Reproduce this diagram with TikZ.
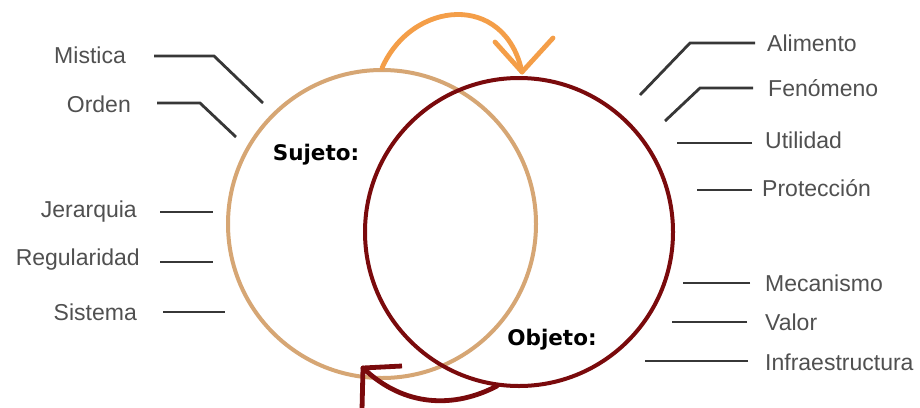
\documentclass[tikz,border=0pt]{standalone}
\usepackage{fontspec}
\setmainfont{Liberation Sans}
\newfontfamily\boldfam{DejaVu Sans}
\definecolor{tanc}{RGB}{214,166,116}
\definecolor{darkr}{RGB}{122,10,12}
\definecolor{orangec}{RGB}{244,158,72}
\definecolor{labg}{RGB}{80,80,80}
\definecolor{lineg}{RGB}{55,55,55}
\begin{document}
\begin{tikzpicture}[x=1pt,y=-1pt,
  lab/.style={inner sep=0pt,text=labg,font=\fontsize{23}{26}\selectfont},
  leftlab/.style={lab,anchor=east},
  rightlab/.style={lab,anchor=west},
  bold/.style={inner sep=0pt,text=black,font=\boldfam\bfseries\fontsize{21.5}{24}\selectfont},
  conn/.style={draw=lineg,line width=2.8pt},
  ring/.style={circle,draw,line width=4pt,minimum size=308pt,inner sep=0pt},
  arr/.style={line width=4.8pt,line cap=round,line join=round}]
\useasboundingbox (0,0) rectangle (920,407);
\fill[white] (0,0) rectangle (920,407);
% circles
\node[ring,draw=tanc] (suj) at (382,224) {};
\node[ring,draw=darkr] (obj) at (519,232) {};
\node[bold] (sujt) at (316,155) {Sujeto:};
\node[bold] (objt) at (552,340) {Objeto:};
% left labels
\node[leftlab] (mis) at (126,55) {Mistica};
\node[leftlab] (ord) at (131,104) {Orden};
\node[leftlab] (jer) at (137,212) {Jerarquia};
\node[leftlab] (reg) at (140,260) {Regularidad};
\node[leftlab] (sis) at (137,312) {Sistema};
\coordinate (cmis) at (263,103);
\coordinate (cord) at (236,137);
\coordinate (cjer) at (213,212);
\coordinate (creg) at (213,262);
\coordinate (csis) at (225,312);
\draw[conn] ([xshift=28pt]mis.east |- 0,56) -- (214,56) -- (cmis);
\draw[conn] ([xshift=26pt]ord.east |- 0,103) -- (200,103) -- (cord);
\draw[conn] ([xshift=23pt]jer.east |- cjer) -- (cjer);
\draw[conn] ([xshift=20pt]reg.east |- creg) -- (creg);
\draw[conn] ([xshift=26pt]sis.east |- csis) -- (csis);
% right labels
\node[rightlab] (ali) at (767,43) {Alimento};
\node[rightlab] (fen) at (768,88) {Fenómeno};
\node[rightlab] (uti) at (765,140) {Utilidad};
\node[rightlab] (pro) at (762,188) {Protección};
\node[rightlab] (mec) at (765,283) {Mecanismo};
\node[rightlab] (val) at (765,322) {Valor};
\node[rightlab] (inf) at (765,362) {Infraestructura};
\coordinate (cali) at (640,95);
\coordinate (cfen) at (665,121);
\coordinate (cuti) at (677,143);
\coordinate (cpro) at (697,190);
\coordinate (cmec) at (683,283);
\coordinate (cval) at (672,322);
\coordinate (cinf) at (645,361);
\draw[conn] ([xshift=-12pt]ali.west |- 0,43) -- (690,43) -- (cali);
\draw[conn] ([xshift=-15pt]fen.west |- 0,88) -- (700,88) -- (cfen);
\draw[conn] ([xshift=-13pt]uti.west |- cuti) -- (cuti);
\draw[conn] ([xshift=-10pt]pro.west |- cpro) -- (cpro);
\draw[conn] ([xshift=-15pt]mec.west |- cmec) -- (cmec);
\draw[conn] ([xshift=-18pt]val.west |- cval) -- (cval);
\draw[conn] ([xshift=-17pt]inf.west |- cinf) -- (cinf);
% orange arrow
\coordinate (otip) at (522,72);
\draw[arr,draw=orangec] (suj.north) .. controls (412,0) and (505,-8) .. (otip);
\draw[arr,draw=orangec] (495,42) -- (otip) -- (553,38);
% red arrow
\coordinate (rstart) at (497,386);
\coordinate (rtip) at (363,368);
\draw[arr,draw=darkr] (rstart) .. controls (455,408) and (405,408) .. (rtip);
\draw[arr,draw=darkr,line cap=butt] (402,366) -- (rtip) -- (362,410);
\end{tikzpicture}
\end{document}
